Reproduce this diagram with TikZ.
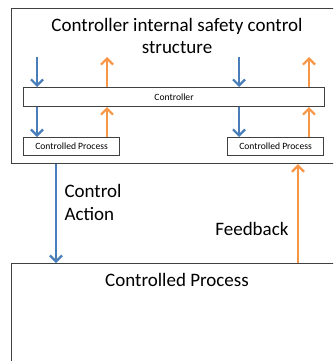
\documentclass[tikz,border=0pt]{standalone}
\usepackage{fontspec}
\setmainfont{Carlito}
\usetikzlibrary{arrows.meta,positioning}
\definecolor{ctrlblue}{HTML}{4A7EBB}
\definecolor{fbkorange}{HTML}{F79646}
\begin{document}
\begin{tikzpicture}[
  x=1pt, y=-1pt,
  frame/.style={draw=black!75, line width=1.2pt, inner sep=0pt, anchor=north west},
  small/.style={draw=black!75, line width=1.1pt, inner sep=0pt, anchor=north west, font=\fontsize{9.6}{10}\selectfont},
  down/.style={-{Straight Barb[length=6pt,width=12pt]}, ctrlblue, line width=2.2pt},
  up/.style={-{Straight Barb[length=6pt,width=12pt]}, fbkorange, line width=2.2pt},
  big/.style={font=\fontsize{19}{23}\selectfont}
]
  \clip (0,0) rectangle (333,361);
  % outer controller and the process below it
  \node[frame, minimum width=340pt, minimum height=155pt] (sys) at (11,8) {};
  \node[font=\fontsize{19}{22}\selectfont, align=center] (title) at (177,36) {Controller internal safety control\\structure};
  \node[frame, minimum width=340pt, minimum height=120pt] (proc) at (11,263) {};
  \node[big] (proctxt) at (177,280) {Controlled Process};

  % inner structure
  \node[small, minimum width=301pt, minimum height=19pt] (ctrl) at (23,87) {Controller};
  \node[small, minimum width=96pt, minimum height=18pt] (cpl) at (23,137) {Controlled Process};
  \node[small, minimum width=96pt, minimum height=18pt] (cpr) at (227,137) {Controlled Process};

  \coordinate (b1) at (37,57);
  \coordinate (o1) at (107,57);
  \coordinate (b2) at (239,57);
  \coordinate (o2) at (309,57);

  \draw[down] (b1) -- (b1 |- ctrl.north);
  \draw[down] (b1 |- ctrl.south) -- (b1 |- cpl.north);
  \draw[up] (o1 |- ctrl.north) -- (o1);
  \draw[up] (o1 |- cpl.north) -- (o1 |- ctrl.south);
  \draw[down] (b2) -- (b2 |- ctrl.north);
  \draw[down] (b2 |- ctrl.south) -- (b2 |- cpr.north);
  \draw[up] (o2 |- ctrl.north) -- (o2);
  \draw[up] (o2 |- cpr.north) -- (o2 |- ctrl.south);

  % between controller and process
  \coordinate (ca) at (56,0);
  \coordinate (fb) at (298,0);
  \draw[down] (ca |- sys.south) -- (ca |- proc.north);
  \draw[up] (fb |- proc.north) -- (fb |- sys.south);
  \node[big, align=left, anchor=west] (catxt) at (61,202) {Control\\Action};
  \node[big, anchor=east] (fbtxt) at (292,229) {Feedback};
\end{tikzpicture}
\end{document}
